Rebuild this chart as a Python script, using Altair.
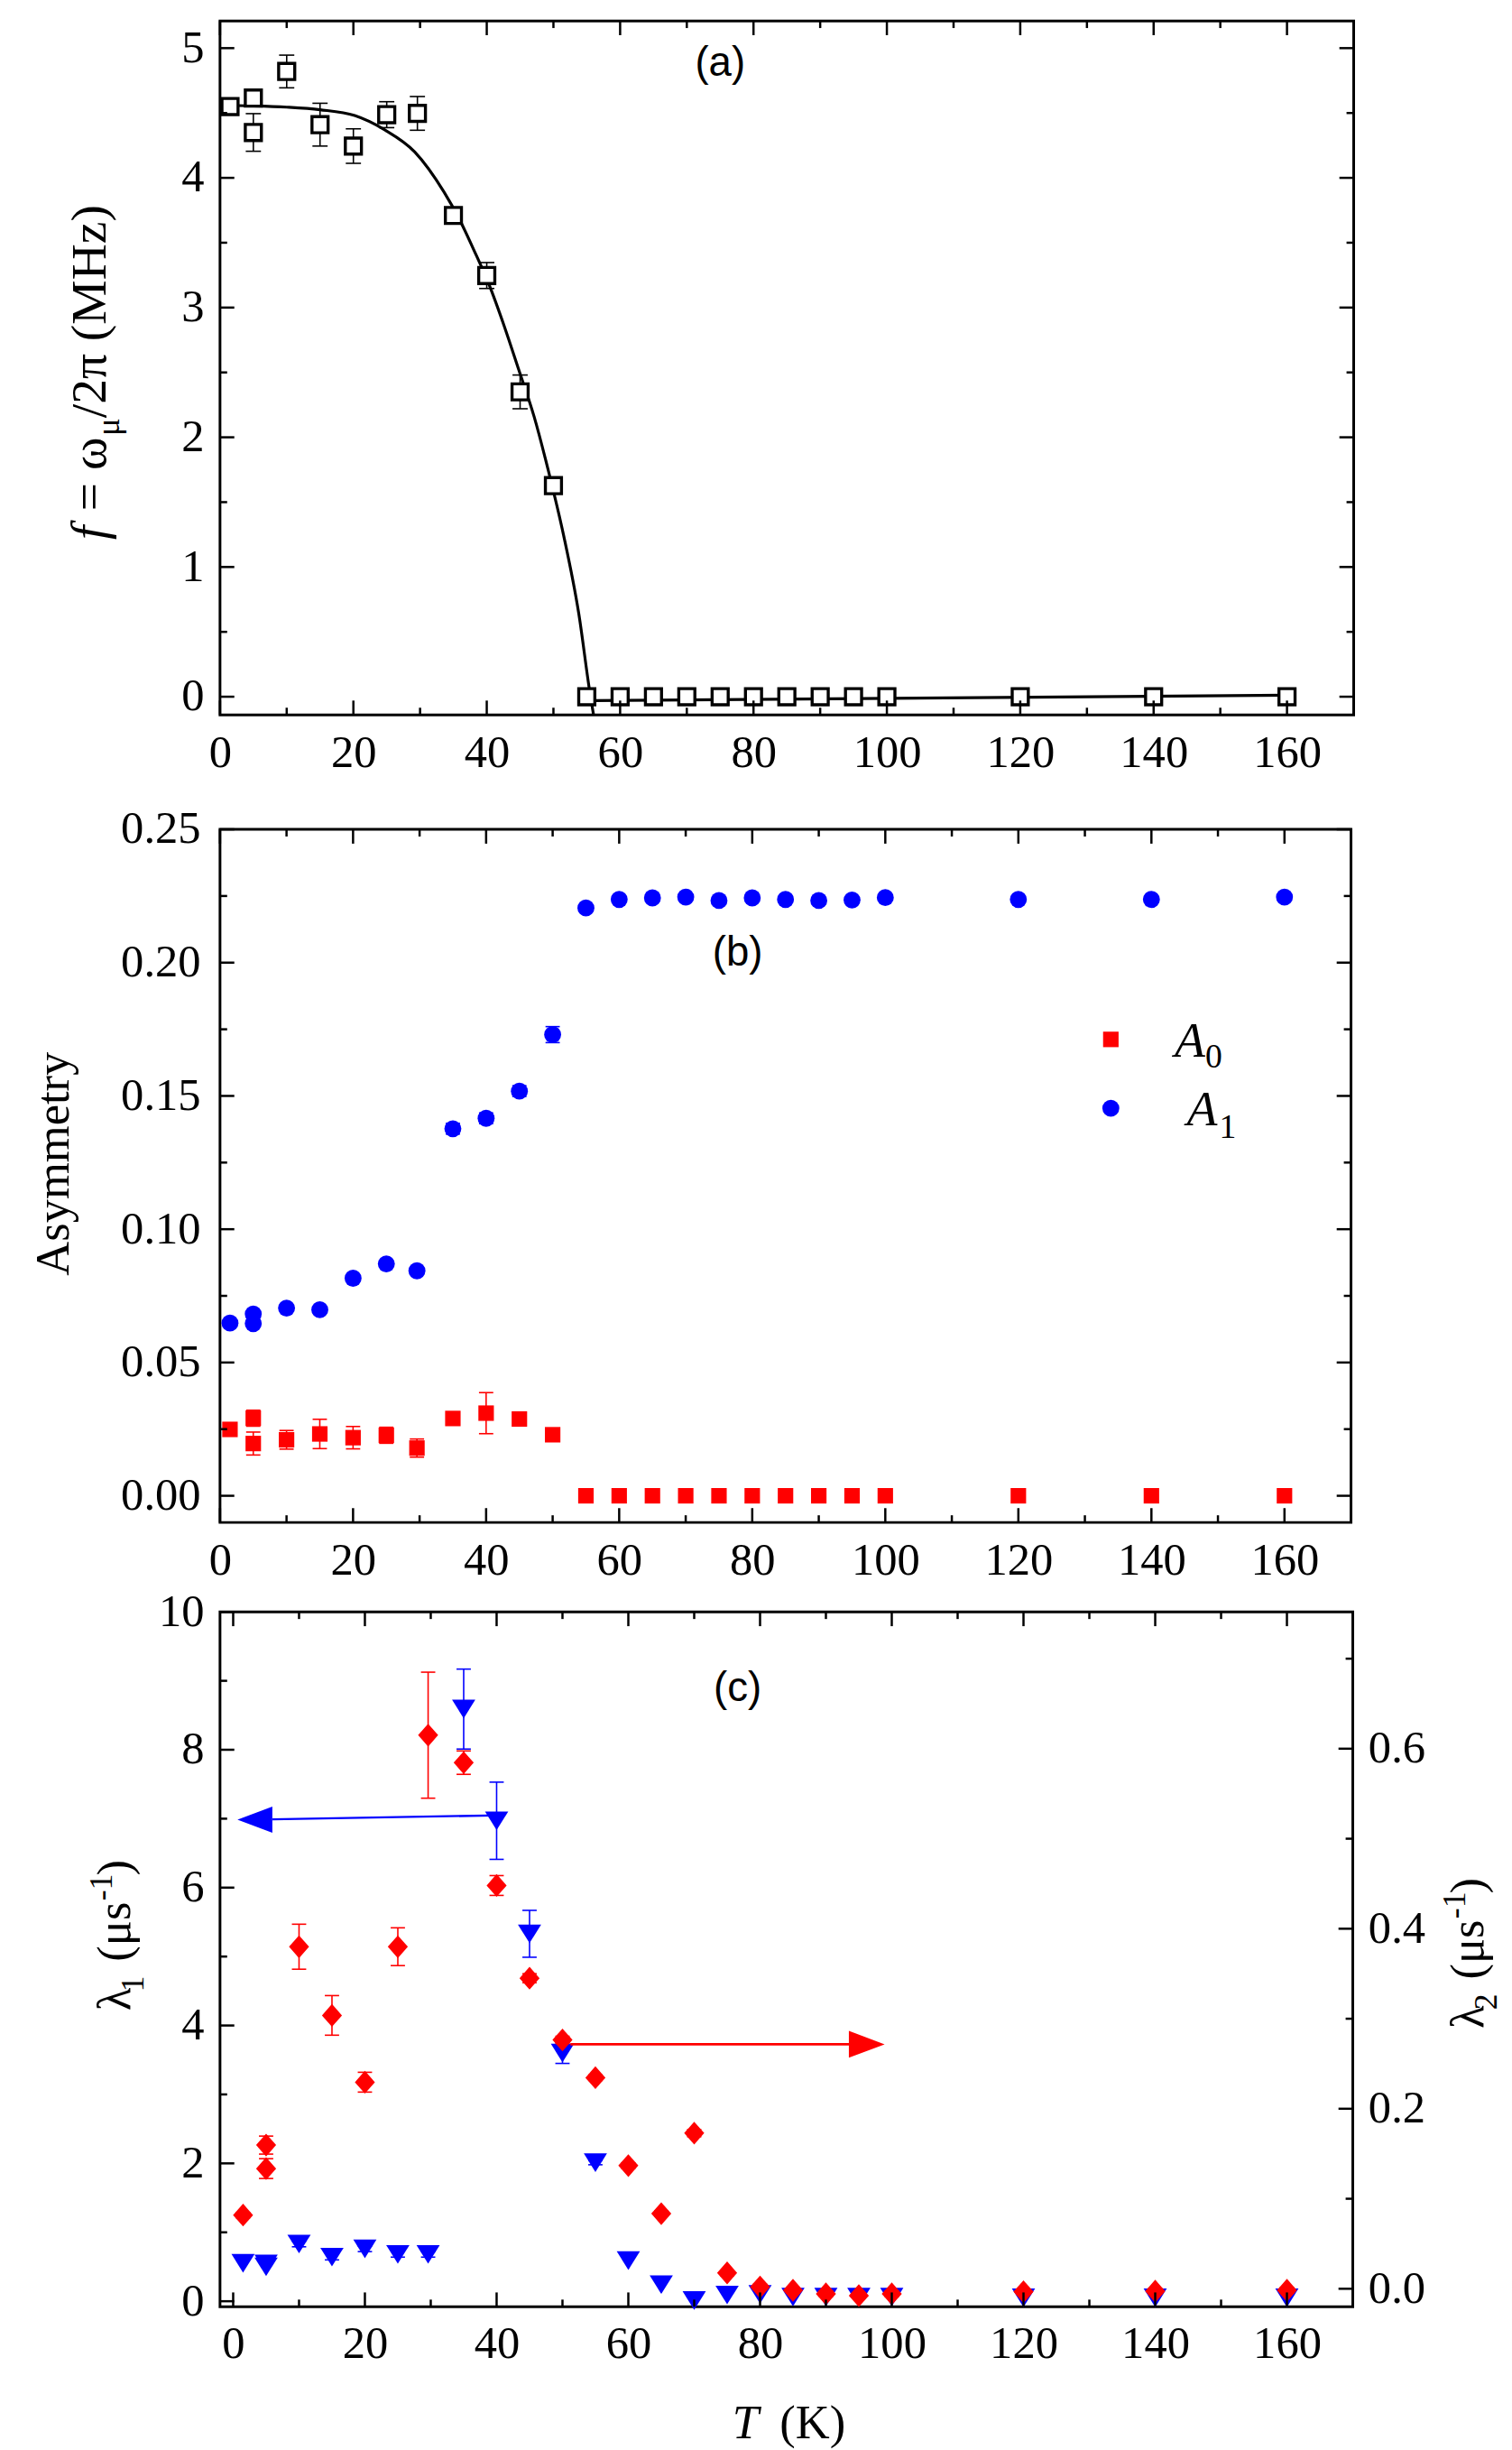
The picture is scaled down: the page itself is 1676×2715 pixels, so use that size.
import altair as alt
import pandas as pd

SERIF = "Liberation Serif"
SANS = "Liberation Sans"
TICK_FS = 51
TITLE_FS = 53

# ---------------- data : panel (a) ----------------
T_a = [1.5, 5, 5, 10, 15, 20, 25, 29.6, 35, 40, 45, 50, 55, 60, 65, 70, 75, 80, 85, 90, 95, 100, 120, 140, 160]
f_a = [4.55, 4.615, 4.35, 4.82, 4.41, 4.245, 4.487, 4.497, 3.71, 3.247, 2.35, 1.627,
       0.0, 0.0, 0.0, 0.0, 0.0, 0.0, 0.0, 0.0, 0.0, 0.0, 0.0, 0.0, 0.0]
f_err = [0.0, 0.04, 0.145, 0.126, 0.165, 0.133, 0.10, 0.13, 0.0, 0.10, 0.13, 0.0,
         0.0, 0.0, 0.0, 0.0, 0.0, 0.0, 0.0, 0.0, 0.0, 0.0, 0.0, 0.0, 0.0]
fit_T = [0, 5, 10, 15, 20.2, 24.7, 29.2, 33.6, 35.9, 38.1, 40.4, 42.6, 44.8, 47.1, 49.3, 51.5, 53.8, 55.5, 56.0]
fit_f = [4.56, 4.555, 4.545, 4.525, 4.48, 4.37, 4.20, 3.89, 3.68, 3.44, 3.17, 2.86, 2.52, 2.16, 1.73, 1.25, 0.64, 0.02, -0.136]
flat_T = [56.0, 160.0]
flat_f = [-0.03, 0.012]

# ---------------- data : panel (b) ----------------
T_b = [1.5, 5, 5, 10, 15, 20, 25, 29.6, 35, 40, 45, 50, 55, 60, 65, 70, 75, 80, 85, 90, 95, 100, 120, 140, 160]
A0 = [0.0249, 0.0291, 0.0196, 0.0210, 0.0232, 0.0218, 0.0227, 0.0179, 0.0290, 0.0310, 0.0288, 0.0229,
      0.0, 0.0, 0.0, 0.0, 0.0, 0.0, 0.0, 0.0, 0.0, 0.0, 0.0, 0.0, 0.0]
A0_err = [0.0, 0.003, 0.0043, 0.0035, 0.0055, 0.0042, 0.003, 0.0034, 0.0, 0.0077, 0.0, 0.0,
          0.0, 0.0, 0.0, 0.0, 0.0, 0.0, 0.0, 0.0, 0.0, 0.0, 0.0, 0.0, 0.0]
A1 = [0.0648, 0.0682, 0.0646, 0.0704, 0.0698, 0.0816, 0.0870, 0.0844, 0.1377, 0.1416, 0.1518, 0.1730,
      0.2205, 0.2237, 0.2243, 0.2246, 0.2233, 0.2243, 0.2237, 0.2233, 0.2235, 0.2244, 0.2237, 0.2237, 0.2246]
A1_err = [0.0, 0.0, 0.0, 0.0, 0.0, 0.0, 0.0, 0.0, 0.002, 0.002, 0.002, 0.003,
          0.0, 0.0, 0.0, 0.0, 0.0, 0.0, 0.0, 0.0, 0.0, 0.0, 0.0, 0.0, 0.0]

# ---------------- data : panel (c) ----------------
T_c = [1.5, 5, 5, 10, 15, 20, 25, 29.6, 35, 40, 45, 50, 55, 60, 65, 70, 75, 80, 85, 90, 95, 100, 120, 140, 160]
lam1 = [0.55, 0.50, 0.54, 0.83, 0.64, 0.76, 0.68, 0.68, 8.59, 6.97, 5.33, 3.60, 2.01, 0.59, 0.24, 0.01, 0.09,
        0.10, 0.06, 0.06, 0.06, 0.06, 0.05, 0.05, 0.05]
lam1_err = [0.0, 0.0, 0.0, 0.04, 0.04, 0.04, 0.04, 0.04, 0.58, 0.56, 0.34, 0.15, 0.03, 0.0, 0.0, 0.0, 0.0,
            0.0, 0.0, 0.0, 0.0, 0.0, 0.0, 0.0, 0.0]
lam2 = [0.0818, 0.1596, 0.1335, 0.380, 0.3037, 0.2295, 0.380, 0.615, 0.5845, 0.448, 0.345, 0.2765, 0.2345,
        0.1368, 0.0835, 0.1729, 0.0176, 0.002, -0.0017, -0.0056, -0.0076, -0.0056, -0.0033, -0.0027, -0.0017]
lam2_err = [0.003, 0.010, 0.011, 0.025, 0.022, 0.011, 0.021, 0.070, 0.013, 0.011, 0.005, 0.004, 0.003,
            0.003, 0.003, 0.004, 0.003, 0.003, 0.003, 0.003, 0.003, 0.003, 0.003, 0.003, 0.003]

# arrows in (c): blue -> left axis (lambda1), red -> right axis (lambda2)
arrow_blue_T = [41.0, 5.96]
arrow_blue_v = [7.05, 6.99]
head_blue_T = [3.3]
head_blue_v = [6.985]
arrow_red_T = [51.2, 93.5]
arrow_red_v = [0.2716, 0.2716]
head_red_T = [96.2]
head_red_v = [0.2716]

# tick values
x_major = [0, 20, 40, 60, 80, 100, 120, 140, 160]
x_minor = [10, 30, 50, 70, 90, 110, 130, 150]
ya_major = [0, 1, 2, 3, 4, 5]
ya_minor = [0.5, 1.5, 2.5, 3.5, 4.5]
yb_major = [0.0, 0.05, 0.10, 0.15, 0.20, 0.25]
yb_minor = [0.025, 0.075, 0.125, 0.175, 0.225]
yc_major = [0, 2, 4, 6, 8, 10]
yc_minor = [1, 3, 5, 7, 9]
yr_major = [0.0, 0.2, 0.4, 0.6]
yr_minor = [0.1, 0.3, 0.5, 0.7]

# panel labels / legend
lab_a = {"T": [75.0], "v": [4.88], "t": ["(a)"]}
lab_b = {"T": [77.8], "v": [0.2035], "t": ["(b)"]}
lab_c = {"T": [76.6], "v": [8.89], "t": ["(c)"]}
leg_sq = {"T": [133.9], "v": [0.1712]}
leg_ci = {"T": [133.9], "v": [0.1454]}
leg_A = {"T": [143.5, 145.3], "v": [0.1648, 0.139], "t": ["A", "A"]}
leg_sub = {"T": [148.1, 150.2], "v": [0.1605, 0.1343], "t": ["0", "1"]}

# ---------------- helpers ----------------
ONE = pd.DataFrame({"k": [0]})
TRI = "M-1,-0.8L1,-0.8L0,0.8Z"
DIA = "M0,-1L0.88,0L0,1L-0.88,0Z"
HEAD_L = "M-1,0L1,-0.75L1,0.75Z"
HEAD_R = "M1,0L-1,-0.75L-1,0.75Z"
FRAME = alt.ViewBackground(stroke="black", strokeWidth=3, fill="white")


def sc(domain):
    return alt.Scale(domain=domain, nice=False, zero=False)


def xlab_axis(pad):
    return alt.Axis(values=x_major, format="d", orient="bottom", ticks=False, tickSize=0, domain=False,
                    grid=False, labelFont=SERIF, labelFontSize=TICK_FS, labelColor="black",
                    labelPadding=pad, labelFlush=False, labelOverlap=False, title=None)


def ylab_axis(values, fmt, pad, orient="left"):
    return alt.Axis(values=values, format=fmt, orient=orient, ticks=False, tickSize=0, domain=False,
                    grid=False, labelFont=SERIF, labelFontSize=TICK_FS, labelColor="black",
                    labelPadding=pad, labelFlush=False, labelOverlap=False, title=None)


def rule_ticks(vals, ch, scale, side, length, W, H):
    df = pd.DataFrame({"v": vals})
    m = alt.Chart(df).mark_rule(color="black", strokeWidth=2.5)
    if ch == "x":
        enc = {"x": alt.X("v:Q", scale=scale, axis=None)}
        if side == "bottom":
            enc["y"] = alt.value(H)
            enc["y2"] = alt.value(H - length)
        else:
            enc["y"] = alt.value(0)
            enc["y2"] = alt.value(length)
    else:
        enc = {"y": alt.Y("v:Q", scale=scale, axis=None)}
        if side == "left":
            enc["x"] = alt.value(0)
            enc["x2"] = alt.value(length)
        else:
            enc["x"] = alt.value(W)
            enc["x2"] = alt.value(W - length)
    return m.encode(**enc)


def frame_ticks(xs, xmaj, xmin, yl, ylmaj, ylmin, yr, yrmaj, yrmin, W, H):
    out = []
    for side in ("bottom", "top"):
        out.append(rule_ticks(xmaj, "x", xs, side, 16, W, H))
        out.append(rule_ticks(xmin, "x", xs, side, 8, W, H))
    out.append(rule_ticks(ylmaj, "y", yl, "left", 16, W, H))
    out.append(rule_ticks(ylmin, "y", yl, "left", 8, W, H))
    out.append(rule_ticks(yrmaj, "y", yr, "right", 16, W, H))
    out.append(rule_ticks(yrmin, "y", yr, "right", 8, W, H))
    return out


def errbars(df, xs, ys, color, cap):
    d = df[df["err"] > 0].copy()
    d["lo"] = d["v"] - d["err"]
    d["hi"] = d["v"] + d["err"]
    base = alt.Chart(d)
    bar = base.mark_rule(color=color, strokeWidth=1.6).encode(
        x=alt.X("T:Q", scale=xs, axis=None),
        y=alt.Y("lo:Q", scale=ys, axis=None), y2="hi:Q")
    c1 = base.mark_point(shape="stroke", size=cap * cap, color=color, strokeWidth=1.6,
                         filled=False, opacity=1).encode(
        x=alt.X("T:Q", scale=xs, axis=None), y=alt.Y("lo:Q", scale=ys, axis=None))
    c2 = base.mark_point(shape="stroke", size=cap * cap, color=color, strokeWidth=1.6,
                         filled=False, opacity=1).encode(
        x=alt.X("T:Q", scale=xs, axis=None), y=alt.Y("hi:Q", scale=ys, axis=None))
    return [bar, c1, c2]


def ptext(text, x, y, size, angle=0, align="left", style="normal", baseline="alphabetic"):
    return alt.Chart(ONE).mark_text(text=text, font=SERIF, fontSize=size, angle=angle, align=align,
                                    baseline=baseline, fontStyle=style, color="black").encode(
        x=alt.value(x), y=alt.value(y))


def bound_rule(x, y2):
    return alt.Chart(ONE).mark_rule(opacity=0, strokeOpacity=0).encode(
        x=alt.value(x), x2=alt.value(x), y=alt.value(0), y2=alt.value(y2))


def dtext(d, xs, ys, size, font=SERIF, style="normal", align="center", baseline="middle"):
    return alt.Chart(pd.DataFrame(d)).mark_text(font=font, fontSize=size, fontStyle=style, align=align,
                                                baseline=baseline, color="black").encode(
        x=alt.X("T:Q", scale=xs, axis=None), y=alt.Y("v:Q", scale=ys, axis=None), text="t:N")


# ---------------- panel (a) ----------------
Wa, Ha = 1268, 776
xs_a = sc([0, 170])
ys_a = sc([-0.14, 5.21])
dfa = pd.DataFrame({"T": T_a, "v": f_a, "err": f_err})
layers_a = []
layers_a += errbars(dfa, xs_a, ys_a, "black", 17)
layers_a.append(alt.Chart(pd.DataFrame({"T": fit_T, "v": fit_f})).mark_line(
    color="black", strokeWidth=3.2, interpolate="monotone", clip=True).encode(
    x=alt.X("T:Q", scale=xs_a, axis=None), y=alt.Y("v:Q", scale=ys_a, axis=None)))
layers_a.append(alt.Chart(pd.DataFrame({"T": flat_T, "v": flat_f})).mark_line(
    color="black", strokeWidth=3.2, clip=True).encode(
    x=alt.X("T:Q", scale=xs_a, axis=None), y=alt.Y("v:Q", scale=ys_a, axis=None)))
layers_a.append(alt.Chart(dfa).mark_point(shape="square", size=324, filled=True, fill="white",
                                          stroke="black", strokeWidth=3.4, opacity=1).encode(
    x=alt.X("T:Q", scale=xs_a, axis=xlab_axis(18)),
    y=alt.Y("v:Q", scale=ys_a, axis=ylab_axis(ya_major, "d", 18))))
layers_a += frame_ticks(xs_a, x_major, x_minor, ys_a, ya_major, ya_minor, ys_a, ya_major, ya_minor, Wa, Ha)
layers_a.append(dtext(lab_a, xs_a, ys_a, 46, font=SANS))
# y title: f = omega_mu / 2 pi (MHz)
layers_a.append(ptext("f", -128, 580, 56, angle=270, style="italic"))
layers_a.append(ptext("= \u03c9", -128, 548, 56, angle=270))
layers_a.append(ptext("\u03bc", -113, 464, 37, angle=270))
layers_a.append(ptext("/2\u03c0 (MHz)", -128, 444, 56, angle=270))
layers_a.append(bound_rule(-200, Ha + 96))
pa = alt.layer(*layers_a).resolve_axis(x="independent", y="independent").properties(
    width=Wa, height=Ha, view=FRAME)

# ---------------- panel (b) ----------------
Wb, Hb = 1265, 775
xs_b = sc([0, 170])
ys_b = sc([-0.01, 0.25])
df0 = pd.DataFrame({"T": T_b, "v": A0, "err": A0_err})
df1 = pd.DataFrame({"T": T_b, "v": A1, "err": A1_err})
layers_b = []
layers_b += errbars(df0, xs_b, ys_b, "#ff0000", 16)
layers_b += errbars(df1, xs_b, ys_b, "#0000ff", 16)
layers_b.append(alt.Chart(df0).mark_point(shape="square", size=300, filled=True, color="#ff0000",
                                          opacity=1).encode(
    x=alt.X("T:Q", scale=xs_b, axis=xlab_axis(18)),
    y=alt.Y("v:Q", scale=ys_b, axis=ylab_axis(yb_major, ".2f", 22))))
layers_b.append(alt.Chart(df1).mark_point(shape="circle", size=361, filled=True, color="#0000ff",
                                          opacity=1).encode(
    x=alt.X("T:Q", scale=xs_b, axis=None), y=alt.Y("v:Q", scale=ys_b, axis=None)))
layers_b += frame_ticks(xs_b, x_major, x_minor, ys_b, yb_major, yb_minor, ys_b, yb_major, yb_minor, Wb, Hb)
layers_b.append(dtext(lab_b, xs_b, ys_b, 46, font=SANS))
layers_b.append(alt.Chart(pd.DataFrame(leg_sq)).mark_point(shape="square", size=300, filled=True,
                                                           color="#ff0000", opacity=1).encode(
    x=alt.X("T:Q", scale=xs_b, axis=None), y=alt.Y("v:Q", scale=ys_b, axis=None)))
layers_b.append(alt.Chart(pd.DataFrame(leg_ci)).mark_point(shape="circle", size=361, filled=True,
                                                           color="#0000ff", opacity=1).encode(
    x=alt.X("T:Q", scale=xs_b, axis=None), y=alt.Y("v:Q", scale=ys_b, axis=None)))
layers_b.append(dtext(leg_A, xs_b, ys_b, 56, style="italic", align="left", baseline="alphabetic"))
layers_b.append(dtext(leg_sub, xs_b, ys_b, 38, align="left", baseline="alphabetic"))
layers_b.append(ptext("Asymmetry", -169, 374, TITLE_FS, angle=270, align="center"))
layers_b.append(bound_rule(-215, Hb))
pb = alt.layer(*layers_b).resolve_axis(x="independent", y="independent").properties(
    width=Wb, height=Hb, view=FRAME)

# ---------------- panel (c) ----------------
Wc, Hc = 1267, 777
xs_c = sc([-2, 170])
yl_c = sc([-0.08, 10])
yr_c = sc([-0.02, 0.752])
dfl = pd.DataFrame({"T": T_c, "v": lam1, "err": lam1_err})
dfr = pd.DataFrame({"T": T_c, "v": lam2, "err": lam2_err})
layers_c = []
layers_c += errbars(dfl, xs_c, yl_c, "#0000ff", 16)
layers_c.append(alt.Chart(dfl).mark_point(shape=TRI, size=676, filled=True, color="#0000ff",
                                          opacity=1).encode(
    x=alt.X("T:Q", scale=xs_c, axis=xlab_axis(17)),
    y=alt.Y("v:Q", scale=yl_c, axis=ylab_axis(yc_major, "d", 18))))
layers_c += errbars(dfr, xs_c, yr_c, "#ff0000", 16)
layers_c.append(alt.Chart(dfr).mark_point(shape=DIA, size=650, filled=True, color="#ff0000",
                                          opacity=1).encode(
    x=alt.X("T:Q", scale=xs_c, axis=None),
    y=alt.Y("v:Q", scale=yr_c, axis=ylab_axis(yr_major, ".1f", 17, orient="right"))))
# arrows
layers_c.append(alt.Chart(pd.DataFrame({"T": [arrow_blue_T[0]], "T2": [arrow_blue_T[1]],
                                        "v": [arrow_blue_v[0]], "v2": [arrow_blue_v[1]]})).mark_rule(
    color="#0000ff", strokeWidth=2.4).encode(
    x=alt.X("T:Q", scale=xs_c, axis=None), x2="T2:Q",
    y=alt.Y("v:Q", scale=yl_c, axis=None), y2="v2:Q"))
layers_c.append(alt.Chart(pd.DataFrame({"T": head_blue_T, "v": head_blue_v})).mark_point(
    shape=HEAD_L, size=1521, filled=True, color="#0000ff", opacity=1).encode(
    x=alt.X("T:Q", scale=xs_c, axis=None), y=alt.Y("v:Q", scale=yl_c, axis=None)))
layers_c.append(alt.Chart(pd.DataFrame({"T": [arrow_red_T[0]], "T2": [arrow_red_T[1]],
                                        "v": [arrow_red_v[0]], "v2": [arrow_red_v[1]]})).mark_rule(
    color="#ff0000", strokeWidth=2.6).encode(
    x=alt.X("T:Q", scale=xs_c, axis=None), x2="T2:Q",
    y=alt.Y("v:Q", scale=yr_c, axis=None), y2="v2:Q"))
layers_c.append(alt.Chart(pd.DataFrame({"T": head_red_T, "v": head_red_v})).mark_point(
    shape=HEAD_R, size=1600, filled=True, color="#ff0000", opacity=1).encode(
    x=alt.X("T:Q", scale=xs_c, axis=None), y=alt.Y("v:Q", scale=yr_c, axis=None)))
layers_c += frame_ticks(xs_c, x_major, x_minor, yl_c, yc_major, yc_minor, yr_c, yr_major, yr_minor, Wc, Hc)
layers_c.append(dtext(lab_c, xs_c, yl_c, 46, font=SANS))
# left title: lambda_1 (mu s^-1)
layers_c.append(ptext("\u03bb", -101, 446, TITLE_FS, angle=270))
layers_c.append(ptext("1", -86, 425, 36, angle=270))
layers_c.append(ptext("(\u03bcs", -101, 391, TITLE_FS, angle=270))
layers_c.append(ptext("-1", -121, 323, 36, angle=270))
layers_c.append(ptext(")", -101, 295, TITLE_FS, angle=270))
# right title: lambda_2 (mu s^-1)
RX = Wc + 146
layers_c.append(ptext("\u03bb", RX, 466, TITLE_FS, angle=270))
layers_c.append(ptext("2", RX + 15, 445, 36, angle=270))
layers_c.append(ptext("(\u03bcs", RX, 411, TITLE_FS, angle=270))
layers_c.append(ptext("-1", RX - 20, 343, 36, angle=270))
layers_c.append(ptext(")", RX, 315, TITLE_FS, angle=270))
# x title
layers_c.append(ptext("T", 573, Hc + 147, TITLE_FS, style="italic"))
layers_c.append(ptext("(K)", 626, Hc + 147, TITLE_FS))
pc = alt.layer(*layers_c).resolve_scale(y="independent").resolve_axis(
    x="independent", y="independent").properties(width=Wc, height=Hc, view=FRAME)

chart = alt.vconcat(pa, pb, pc, spacing=2).properties(
    padding={"left": 21, "top": 0, "right": 0, "bottom": 0},
    background="white",
).configure_view(stroke="black", strokeWidth=3).configure(font=SERIF)

chart.save("out.html", embed_options={"renderer": "svg", "actions": False})
